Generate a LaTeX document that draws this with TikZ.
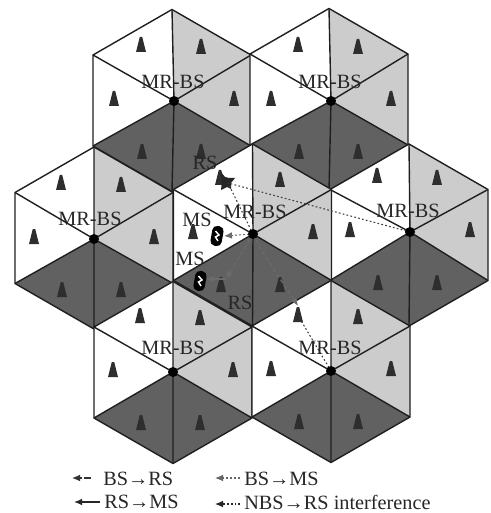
\documentclass[tikz,border=0pt]{standalone}
\usepackage{fontspec}
\setmainfont{Liberation Serif}
\usetikzlibrary{arrows.meta}
\definecolor{lightcell}{gray}{0.80}
\definecolor{darkcell}{gray}{0.38}
\definecolor{tower}{gray}{0.18}
\definecolor{linkgray}{gray}{0.42}
\tikzset{
  cellline/.style={draw=black!88,line width=1.05pt,line join=round},
  hub/.style={circle,fill=black,inner sep=0pt,minimum size=7.5pt},
  lab/.style={inner sep=0pt,font=\fontsize{15.2pt}{16pt}\selectfont,text=black!85},
  legend/.style={inner sep=0pt,anchor=west,font=\fontsize{15.2pt}{16pt}\selectfont,text=black!85},
  tip/.style={-{Latex[length=6pt,width=5pt]}},
  bsrs/.style={tip,draw=linkgray,line width=.8pt,dash pattern=on 3pt off 2pt},
  bsms/.style={tip,draw=linkgray,line width=.8pt,dash pattern=on 1.5pt off 1.5pt},
  rsms/.style={tip,draw=linkgray,line width=1pt},
  nbs/.style={draw=black!75,line width=.8pt,dash pattern=on 1.3pt off 1.7pt},
  legbsrs/.style={tip,draw=black!80,line width=.8pt,dash pattern=on 5pt off 1.5pt},
  legbsms/.style={tip,draw=black!60,line width=.8pt,dash pattern=on 1.5pt off 1.5pt},
  legrsms/.style={tip,draw=black!85,line width=1pt},
  legnbs/.style={tip,draw=black!85,line width=.8pt,dash pattern=on 1.3pt off 1.5pt},
}
\newcommand{\rstower}[2]{\fill[tower] (#1-5,#2+7) -- (#1-1.2,#2-8) -- (#1+1.2,#2-8) -- (#1+5,#2+7) -- cycle;}
\newcommand{\msicon}[3]{%
  \node[rotate=#3,fill=black,rounded corners=3.5pt,inner sep=0pt,minimum width=8.5pt,minimum height=15pt] at (#1,#2) {};
  \draw[white,line width=1.1pt] (#1-1.5,#2-5) -- (#1+2,#2-1) -- (#1-1.5,#2+1) -- (#1+1,#2+5);}
\begin{document}
\begin{tikzpicture}[x=.75pt,y=-.75pt]
\useasboundingbox (0,0) rectangle (491,513);
\fill[white] (0,0) rectangle (491,513);
% name / hub x,y / outline x,y
\foreach \n/\hx/\hy/\ox/\oy in {a/174/101/172/100.5,b/331/101/329/99.5,w/94/239/94/238,e/410/232/409/235,c/253/234/252.5/235,l/173/372/173/372.5,r/331/371/331/371.5}{
  \coordinate (hub\n) at (\hx,\hy);
  \fill[white] (\ox,\oy-91) -- (\ox-79,\oy-45.5) -- (\ox-79,\oy+45.5) -- (\hx,\hy) -- cycle;
  \fill[lightcell] (\ox,\oy-91) -- (\ox+79,\oy-45.5) -- (\ox+79,\oy+45.5) -- (\hx,\hy) -- cycle;
  \fill[darkcell] (\hx,\hy) -- (\ox+79,\oy+45.5) -- (\ox,\oy+91) -- (\ox-79,\oy+45.5) -- cycle;
  \draw[cellline] (\ox,\oy-91) -- (\ox+79,\oy-45.5) -- (\ox+79,\oy+45.5) -- (\ox,\oy+91) -- (\ox-79,\oy+45.5) -- (\ox-79,\oy-45.5) -- cycle;
  \draw[cellline] (\ox,\oy-91) -- (\hx,\hy) (\ox,\oy+91) -- (\hx,\hy)
     (\ox-79,\oy-45.5) -- (\hx,\hy) (\ox+79,\oy-45.5) -- (\hx,\hy)
     (\ox-79,\oy+45.5) -- (\hx,\hy) (\ox+79,\oy+45.5) -- (\hx,\hy);
  \ifx\n c\else
    \rstower{\hx-33}{\hy-56}
  \fi
  \rstower{\hx+27}{\hy-54}
  \rstower{\hx-60}{\hy-2}
  \rstower{\hx+60}{\hy-2}
  \rstower{\hx-32}{\hy+51}
  \rstower{\hx+27}{\hy+51}
}
% interfered RS, drawn as a burst
\fill[black!85] (220,171) -- (225,177) -- (229,178) -- (235,178) -- (231,183) -- (231,189) -- (227,187) -- (221,190) -- (222,181) -- cycle;
\coordinate (rsstar) at (228,183);
\coordinate (rsleft) at (226,279);
\coordinate (rsright) at (298,306);
\coordinate (ifend) at (300,319);
\coordinate (ms1) at (224,236);
\coordinate (ms2) at (206,279);
% links
\draw[nbs] (hubc) -- (rsstar);
\draw[nbs] (hube) -- (rsstar);
\draw[bsms] (hubc) -- (ms1);
\draw[bsrs] (hubc) -- (rsleft);
\draw[rsms] (rsleft) -- (ms2);
\draw[bsrs] (hubc) .. controls (272,270) and (288,290) .. (rsright);
\draw[nbs] (hubr) -- (ifend);
\msicon{217}{236}{-10}
\msicon{200}{281}{-10}
% hubs
\foreach \n in {a,b,w,e,c,l,r}{ \node[hub] (dot\n) at (hub\n) {}; }
% labels
\node[lab] (la) at (173,82) {MR-BS};
\node[lab] (lb) at (330,82) {MR-BS};
\node[lab] (lw) at (90,219) {MR-BS};
\node[lab] (lc) at (255,212) {MR-BS};
\node[lab] (le) at (408,211) {MR-BS};
\node[lab] (ll) at (173,348) {MR-BS};
\node[lab] (lr) at (330,348) {MR-BS};
\node[lab] (rs1) at (205,163) {RS};
\node[lab] (rs2) at (240,303) {RS};
\node[lab] (ms1t) at (197,220) {MS};
\node[lab] (ms2t) at (190,259) {MS};
% legend
\coordinate (k1a) at (91,478); \coordinate (k1b) at (72,478);
\coordinate (k2a) at (100,502); \coordinate (k2b) at (74,502);
\coordinate (k3a) at (240,478); \coordinate (k3b) at (215,478);
\coordinate (k4a) at (240,504); \coordinate (k4b) at (215,504);
\draw[legbsrs] (k1a) -- (k1b);
\draw[legrsms] (k2a) -- (k2b);
\draw[legbsms] (k3a) -- (k3b);
\draw[legnbs] (k4a) -- (k4b);
\node[legend] (t1) at (103,479) {BS→RS};
\node[legend] (t2) at (104,502) {RS→MS};
\node[legend] (t3) at (244,479) {BS→MS};
\node[legend] (t4) at (244,502) {NBS→RS interference};
\end{tikzpicture}
\end{document}
